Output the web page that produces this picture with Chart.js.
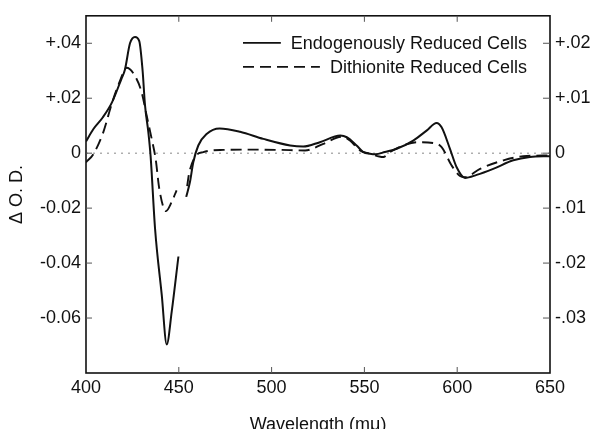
<!DOCTYPE html>
<html>
<head>
<meta charset="utf-8">
<script src="https://cdn.jsdelivr.net/npm/chart.js@4.4.1/dist/chart.umd.min.js"></script>
<style>
  body { margin: 0; background: #fff; }
  #wrap { width: 592px; height: 429px; position: relative; }
</style>
</head>
<body>
<div id="wrap"><canvas id="spectrum"></canvas></div>
<script>
// values (wavelength in mμ, ΔO.D. on the left scale)
var endoX = [400, 404, 409, 414, 419, 421, 423.7, 426.4, 428.7, 430.5, 431.8, 433.6, 434.8, 437.2, 440.8, 443.5, 446.2, 449.8,
             452,
             454, 456, 457.8, 460.5, 465, 472, 483, 495.5, 510, 517, 526, 537, 540.5, 545.8, 549.4, 553, 556, 561, 567.4,
             576.3, 583.5, 588.9, 591.6, 596.1, 599.7, 604.2, 610.5, 619.4, 630.2, 639.2, 650];
var endoY = [0.0043, 0.0088, 0.0130, 0.0185, 0.0269, 0.0305, 0.0400, 0.0423, 0.0408, 0.0300, 0.0174, 0.0076, -0.0010, -0.0274, -0.0515, -0.0696, -0.0576, -0.0376,
             null,
             -0.0159, -0.0105, -0.0033, 0.0028, 0.0070, 0.0090, 0.0078, 0.0052, 0.0028, 0.0024, 0.0040, 0.0064, 0.0058, 0.0028, 0.0004, -0.0002, -0.0004, 0.0004, 0.0016,
             0.0046, 0.0082, 0.0110, 0.0094, 0.0016, -0.0051, -0.0090, -0.0079, -0.0057, -0.0026, -0.0014, -0.0011];

var dithX = [400, 404, 409.3, 413.8, 418.3, 421.9, 426.4, 430, 432.7, 435.4, 437.5, 439.5, 443.1, 446.2, 448.8,
             451.5,
             454.5, 455.5, 458.7, 463.2, 474, 486.6, 504.5, 518, 527.9, 537.8, 542.2, 547.6, 553, 558, 560.2, 563.8,
             571, 578.2, 587.2, 591.6, 597, 601.5, 604.2, 612.3, 624.9, 635.6, 650];
var dithY = [-0.0033, -0.0003, 0.0076, 0.0178, 0.0263, 0.0311, 0.0281, 0.0221, 0.0136, 0.0052, -0.0020, -0.0130, -0.0211, -0.0177, -0.0135,
             null,
             -0.0120, -0.0075, -0.0014, 0.0004, 0.0012, 0.0013, 0.0012, 0.0010, 0.0034, 0.0060, 0.0046, 0.0010, -0.0002, -0.0012, -0.0014, 0.0004,
             0.0028, 0.0040, 0.0037, 0.0022, -0.0045, -0.0083, -0.0087, -0.0057, -0.0026, -0.0011, -0.0008];

var seriesNames = ["Endogenously Reduced Cells", "Dithionite Reduced Cells"];

var xTickValues = [400, 450, 500, 550, 600, 650];
var leftTickValues = [0.04, 0.02, 0, -0.02, -0.04, -0.06];
var leftTickLabels = ["+.04", "+.02", "0", "-0.02", "-0.04", "-0.06"];
var rightTickValues = [0.02, 0.01, 0, -0.01, -0.02, -0.03];
var rightTickLabels = ["+.02", "+.01", "0", "-.01", "-.02", "-.03"];

var FONT = "'Liberation Sans', Arial, Helvetica, sans-serif";
var INK = '#111';

function toPoints(xs, ys) {
    return xs.map(function(x, i){ return {x: x, y: ys[i]}; });
}

function fixedTicks(values) {
    return function(scale) {
        scale.ticks = values.map(function(v){ return {value: v}; });
    };
}

// frame, inward tick marks, dotted zero line and the legend
var decorPlugin = {
    id: 'decor',
    beforeDatasetsDraw: function(chart) {
        var ctx = chart.ctx, a = chart.chartArea;
        var y0 = chart.scales.y.getPixelForValue(0);
        ctx.save();
        ctx.strokeStyle = '#888';
        ctx.lineWidth = 1;
        ctx.setLineDash([2, 5]);
        ctx.beginPath();
        ctx.moveTo(a.left, y0);
        ctx.lineTo(a.right, y0);
        ctx.stroke();
        ctx.restore();
    },
    afterDatasetsDraw: function(chart) {
        var ctx = chart.ctx, a = chart.chartArea;
        var sx = chart.scales.x, sy = chart.scales.y, sy2 = chart.scales.y2;
        ctx.save();
        ctx.strokeStyle = INK;
        ctx.lineWidth = 1.6;
        ctx.strokeRect(a.left, a.top, a.right - a.left, a.bottom - a.top);

        ctx.lineWidth = 1;
        ctx.strokeStyle = '#555';
        ctx.beginPath();
        [450, 500, 550, 600].forEach(function(v){
            var px = sx.getPixelForValue(v);
            ctx.moveTo(px, a.bottom); ctx.lineTo(px, a.bottom - 6);
            ctx.moveTo(px, a.top); ctx.lineTo(px, a.top + 6);
        });
        leftTickValues.forEach(function(v){
            var py = sy.getPixelForValue(v);
            ctx.moveTo(a.left, py); ctx.lineTo(a.left + 6, py);
        });
        rightTickValues.forEach(function(v){
            var py = sy2.getPixelForValue(v);
            ctx.moveTo(a.right, py); ctx.lineTo(a.right - 7, py);
        });
        ctx.stroke();

        // legend, right aligned near the top
        ctx.font = '18px ' + FONT;
        ctx.fillStyle = INK;
        ctx.textAlign = 'right';
        ctx.textBaseline = 'middle';
        var textRight = a.right - 23;
        var lineStart = a.left + 157;
        chart.data.datasets.forEach(function(ds, i){
            var ly = a.top + 27 + i * 24;
            var w = ctx.measureText(ds.label).width;
            ctx.fillText(ds.label, textRight, ly + 1);
            ctx.strokeStyle = INK;
            ctx.lineWidth = 1.8;
            ctx.setLineDash(ds.borderDash || []);
            ctx.beginPath();
            ctx.moveTo(lineStart, ly);
            ctx.lineTo(textRight - w - 10, ly);
            ctx.stroke();
        });
        ctx.restore();
    }
};

new Chart(document.getElementById('spectrum'), {
    type: 'line',
    data: {
        datasets: [
            {
                label: seriesNames[0],
                data: toPoints(endoX, endoY),
                borderColor: INK,
                borderWidth: 2,
                pointRadius: 0,
                cubicInterpolationMode: 'monotone',
                spanGaps: false,
                yAxisID: 'y'
            },
            {
                label: seriesNames[1],
                data: toPoints(dithX, dithY),
                borderColor: INK,
                borderWidth: 1.9,
                borderDash: [11, 6],
                pointRadius: 0,
                cubicInterpolationMode: 'monotone',
                spanGaps: false,
                yAxisID: 'y'
            }
        ]
    },
    options: {
        responsive: true,
        maintainAspectRatio: false,
        animation: false,
        layout: {padding: {top: 12, left: 0, right: 0, bottom: 0}},
        plugins: {
            legend: {display: false},
            tooltip: {enabled: false}
        },
        scales: {
            x: {
                type: 'linear',
                min: 400,
                max: 650,
                afterBuildTicks: fixedTicks(xTickValues),
                afterFit: function(s){ s.height = 56; },
                grid: {display: false, drawTicks: false},
                border: {display: false},
                ticks: {padding: 4, color: INK, font: {family: FONT, size: 18}},
                title: {
                    display: true,
                    text: 'Wavelength (mμ)',
                    color: INK,
                    font: {family: FONT, size: 18},
                    padding: {top: 0, bottom: -7}
                }
            },
            y: {
                position: 'left',
                min: -0.08,
                max: 0.05,
                afterBuildTicks: fixedTicks(leftTickValues),
                afterFit: function(s){ s.width = 86; },
                grid: {display: false, drawTicks: false},
                border: {display: false},
                ticks: {
                    padding: 5,
                    color: INK,
                    font: {family: FONT, size: 18},
                    callback: function(v){
                        var i = leftTickValues.indexOf(v);
                        return i >= 0 ? leftTickLabels[i] : '';
                    }
                },
                title: {
                    display: true,
                    text: 'Δ O. D.',
                    color: INK,
                    font: {family: FONT, size: 18},
                    padding: {top: 6, bottom: 0}
                }
            },
            y2: {
                position: 'right',
                min: -0.04,
                max: 0.025,
                afterBuildTicks: fixedTicks(rightTickValues),
                afterFit: function(s){ s.width = 42; },
                grid: {display: false, drawTicks: false},
                border: {display: false},
                ticks: {
                    padding: 5,
                    color: INK,
                    font: {family: FONT, size: 18},
                    callback: function(v){
                        var i = rightTickValues.indexOf(v);
                        return i >= 0 ? rightTickLabels[i] : '';
                    }
                }
            }
        }
    },
    plugins: [decorPlugin]
});
</script>
</body>
</html>
